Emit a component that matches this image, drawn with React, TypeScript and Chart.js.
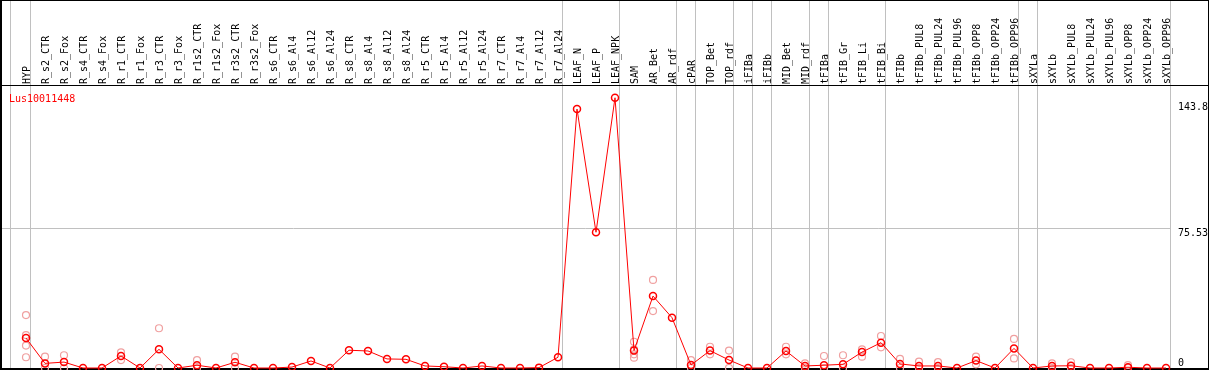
import React, { useEffect, useRef } from "react";
import { Chart, registerables } from "chart.js";

Chart.register(...registerables);

const geneId = "Lus10011448";

const categories = [
  "HYP",
  "R_s2_CTR", "R_s2_Fox", "R_s4_CTR", "R_s4_Fox",
  "R_r1_CTR", "R_r1_Fox", "R_r3_CTR", "R_r3_Fox",
  "R_r1s2_CTR", "R_r1s2_Fox", "R_r3s2_CTR", "R_r3s2_Fox",
  "R_s6_CTR", "R_s6_Al4", "R_s6_Al12", "R_s6_Al24",
  "R_s8_CTR", "R_s8_Al4", "R_s8_Al12", "R_s8_Al24",
  "R_r5_CTR", "R_r5_Al4", "R_r5_Al12", "R_r5_Al24",
  "R_r7_CTR", "R_r7_Al4", "R_r7_Al12", "R_r7_Al24",
  "LEAF_N", "LEAF_P", "LEAF_NPK",
  "SAM", "AR_Bet", "AR_rdf", "cPAR", "TOP_Bet", "TOP_rdf",
  "iFIBa", "iFIBb", "MID_Bet", "MID_rdf",
  "tFIBa", "tFIB_Gr", "tFIB_Li", "tFIB_Bi",
  "tFIBb", "tFIBb_PUL8", "tFIBb_PUL24", "tFIBb_PUL96", "tFIBb_OPP8", "tFIBb_OPP24", "tFIBb_OPP96",
  "sXYLa", "sXYLb", "sXYLb_PUL8", "sXYLb_PUL24", "sXYLb_PUL96", "sXYLb_OPP8", "sXYLb_OPP24", "sXYLb_OPP96",
];

const meanValues = [
  16.2,
  2.5, 3.2, 0, 0,
  6.5, 0, 10.1, 0,
  1.5, 0, 3.1, 0,
  0, 0.5, 3.8, 0,
  9.6, 9.2, 4.9, 4.7,
  1.1, 0.7, 0, 1.1,
  0, 0, 0.2, 5.8,
  140.0, 73.4, 146.1,
  9.4, 38.9, 27.2, 1.6, 9.4, 4.3,
  0, 0, 9.2, 1.1,
  1.5, 2.0, 8.6, 13.7,
  2.2, 1.1, 1.1, 0, 4.0, 0, 10.6,
  0, 1.1, 1.2, 0, 0, 0.4, 0, 0,
];

const replicateValues: number[][] = [
  [28.6, 17.8, 12.1, 5.8],
  [6.1, 0], [6.9, 0], [], [],
  [8.5, 4.3], [], [21.5, 0], [],
  [4.3, 0], [], [6.1, 0], [],
  [], [], [], [],
  [], [], [], [],
  [], [], [], [],
  [], [], [], [],
  [], [], [],
  [14.2, 10.1, 7.4, 5.6], [47.6, 30.8], [], [4.3, 0], [11.5, 7.4], [9.4, 0],
  [], [], [11.5, 7.4], [2.5, 0],
  [6.5, 0], [6.9, 0], [10.1, 6.1], [17.3, 11.2],
  [4.9, 0], [3.4, 0], [3.2, 0], [], [6.1, 2.0], [], [15.7, 5.2],
  [], [2.5, 0], [3.1, 0], [], [], [1.6, 0], [], [],
];

// index of the last category of each tissue group (a separator follows it)
const groupLastIndex = [0, 28, 31, 34, 35, 37, 38, 39, 41, 42, 45, 52, 53, 60];
const yTickValues = [0, 75.53, 143.8];
const yGridValues = [75.53];

const MONO = '"DejaVu Sans Mono", monospace';

const framePlugin = {
  id: "efpFrame",
  beforeDatasetsDraw(chart: any) {
    const ctx = chart.ctx as CanvasRenderingContext2D;
    const xs = chart.scales.x;
    const ys = chart.scales.y;
    const W = chart.width;
    const H = chart.height;
    const headerY = 85.5;
    ctx.save();
    // vertical separators
    ctx.strokeStyle = "#c0c0c0";
    ctx.lineWidth = 1;
    const seps = [-0.8, ...groupLastIndex.map((i) => i + 0.25)];
    ctx.beginPath();
    seps.forEach((s) => {
      const px = Math.floor(xs.getPixelForValue(s)) + 0.5;
      ctx.moveTo(px, 0);
      ctx.lineTo(px, H);
    });
    ctx.stroke();
    // horizontal gridlines
    const lastSep = Math.floor(xs.getPixelForValue(seps[seps.length - 1])) + 0.5;
    ctx.beginPath();
    yGridValues.forEach((v) => {
      const py = Math.floor(ys.getPixelForValue(v)) + 0.5;
      ctx.moveTo(1, py);
      ctx.lineTo(lastSep, py);
    });
    ctx.stroke();

    // borders
    ctx.fillStyle = "#000";
    ctx.fillRect(0, 0, W, 1); // top
    ctx.fillRect(0, Math.floor(headerY), W, 1); // header divider
    ctx.fillRect(0, H - 2, W, 2); // bottom
    ctx.fillRect(0, 0, 2, H); // left
    ctx.fillRect(W - 1, 0, 1, H); // right

    // category labels (rotated)
    ctx.font = `10px ${MONO}`;
    ctx.fillStyle = "#000";
    ctx.textAlign = "left";
    ctx.textBaseline = "alphabetic";
    categories.forEach((c, i) => {
      const px = xs.getPixelForValue(i);
      ctx.save();
      ctx.translate(px + 3.5, 84);
      ctx.rotate(-Math.PI / 2);
      ctx.fillText(c, 0, 0);
      ctx.restore();
    });

    // gene id
    ctx.fillStyle = "#ff0000";
    ctx.fillText(geneId, 9, 101.5);

    // y labels
    ctx.fillStyle = "#000";
    yTickValues.forEach((v) => {
      const py = ys.getPixelForValue(v);
      const base = Math.min(py + 7.7, H - 4.3);
      ctx.fillText(String(v), 1178, base);
    });
    ctx.restore();
  },
};

export default function App() {
  const canvasRef = useRef<HTMLCanvasElement | null>(null);

  useEffect(() => {
    const canvas = canvasRef.current;
    if (!canvas) return;
    const repPoints: { x: number; y: number }[] = [];
    replicateValues.forEach((reps, i) => reps.forEach((v) => repPoints.push({ x: i, y: v })));
    const meanPoints = meanValues.map((v, i) => ({ x: i, y: v }));

    const pxPerCat = 19;
    const firstX = 26;
    const W = 1209;
    const H = 370;
    const kY = 1.8496;
    const zeroY = 368;

    const chart = new Chart(canvas, {
      type: "line",
      data: {
        datasets: [
          {
            label: "mean",
            data: meanPoints,
            borderColor: "#ff0000",
            borderWidth: 1,
            pointRadius: 3.5,
            pointBorderWidth: 1.5,
            pointBorderColor: "#ff0000",
            pointBackgroundColor: "rgba(0,0,0,0)",
            tension: 0,
            clip: false,
            order: 0,
          },
          {
            label: "replicates",
            data: repPoints,
            showLine: false,
            borderColor: "#f0a0a0",
            pointRadius: 3.5,
            pointBorderWidth: 1.2,
            pointBorderColor: "#f0a0a0",
            pointBackgroundColor: "rgba(0,0,0,0)",
            clip: false,
            order: 1,
          },
        ],
      },
      options: {
        animation: false,
        responsive: false,
        devicePixelRatio: 1,
        layout: { padding: 0, autoPadding: false },
        plugins: {
          legend: { display: false },
          tooltip: { enabled: false },
          title: { display: false },
        },
        scales: {
          x: {
            type: "linear",
            display: false,
            min: -firstX / pxPerCat,
            max: (W - firstX) / pxPerCat,
          },
          y: {
            type: "linear",
            display: false,
            min: -(H - zeroY) / kY,
            max: -(H - zeroY) / kY + H / kY,
          },
        },
      } as any,
      plugins: [framePlugin],
    });
    return () => chart.destroy();
  }, []);

  return (
    <div style={{ position: "fixed", left: 0, top: 0, width: 1209, height: 370, background: "#fff" }}>
      <canvas ref={canvasRef} width={1209} height={370} style={{ display: "block" }} />
    </div>
  );
}
